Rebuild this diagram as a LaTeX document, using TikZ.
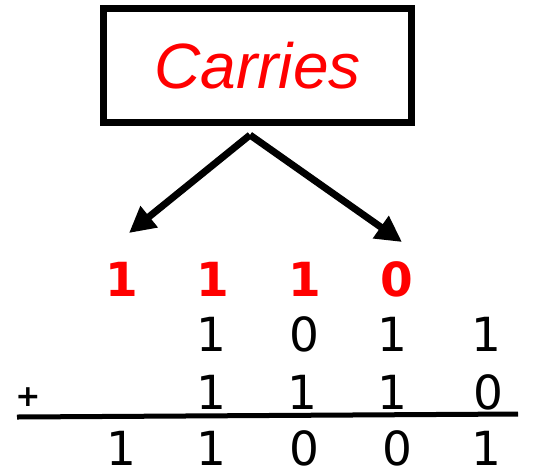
\documentclass[tikz,border=0pt]{standalone}
\usepackage{fontspec}
\setmainfont{DejaVu Sans}
\newfontfamily\labelfont{Liberation Sans}
\usetikzlibrary{arrows.meta}
\begin{document}
\begin{tikzpicture}[x=1pt,y=-1pt,
  digit/.style={inner sep=0pt,font=\fontsize{47}{47}\selectfont},
  carry/.style={inner sep=0pt,text=red,font=\fontsize{47}{47}\selectfont\bfseries},
  pointer/.style={line width=7pt,-{Triangle[length=26pt,width=26pt]}}]
\useasboundingbox (0,0) rectangle (548,472);
% label box
\node[draw,line width=7pt,minimum width=308pt,minimum height=114pt,inner sep=0pt,
      text=red,font=\labelfont\itshape\fontsize{64}{64}\selectfont] (box) at (257.5,65.5) {Carries};
% carry row
\node[carry] (c1) at (122,279.5) {1};
\node[carry] (c2) at (213,279.5) {1};
\node[carry] (c3) at (305,279.5) {1};
\node[carry] (c4) at (397,279.5) {0};
% first addend
\node[digit] (a1) at (211,334.5) {1};
\node[digit] (a2) at (304,334.5) {0};
\node[digit] (a3) at (392,334.5) {1};
\node[digit] (a4) at (486,334.5) {1};
% second addend
\node[inner sep=0pt,font=\fontsize{30}{30}\selectfont\bfseries] (plus) at (28,397) {+};
\node[digit] (b1) at (211,392.5) {1};
\node[digit] (b2) at (302,392.5) {1};
\node[digit] (b3) at (392,392.5) {1};
\node[digit] (b4) at (488,392.5) {0};
% sum line
\coordinate (ls) at (17,417);
\coordinate (le) at (518,414);
\draw[line width=5pt] (ls) -- (le);
% sum
\node[digit] (s1) at (121,448.5) {1};
\node[digit] (s2) at (211,448.5) {1};
\node[digit] (s3) at (304,448.5) {0};
\node[digit] (s4) at (397,448.5) {0};
\node[digit] (s5) at (486,448.5) {1};
% pointers from the label to the carries
\coordinate (apex) at (250,135);
\coordinate (tipL) at (129,233);
\coordinate (tipR) at (402,242);
\draw[pointer] (apex) -- (tipL);
\draw[pointer] (apex) -- (tipR);
\end{tikzpicture}
\end{document}
